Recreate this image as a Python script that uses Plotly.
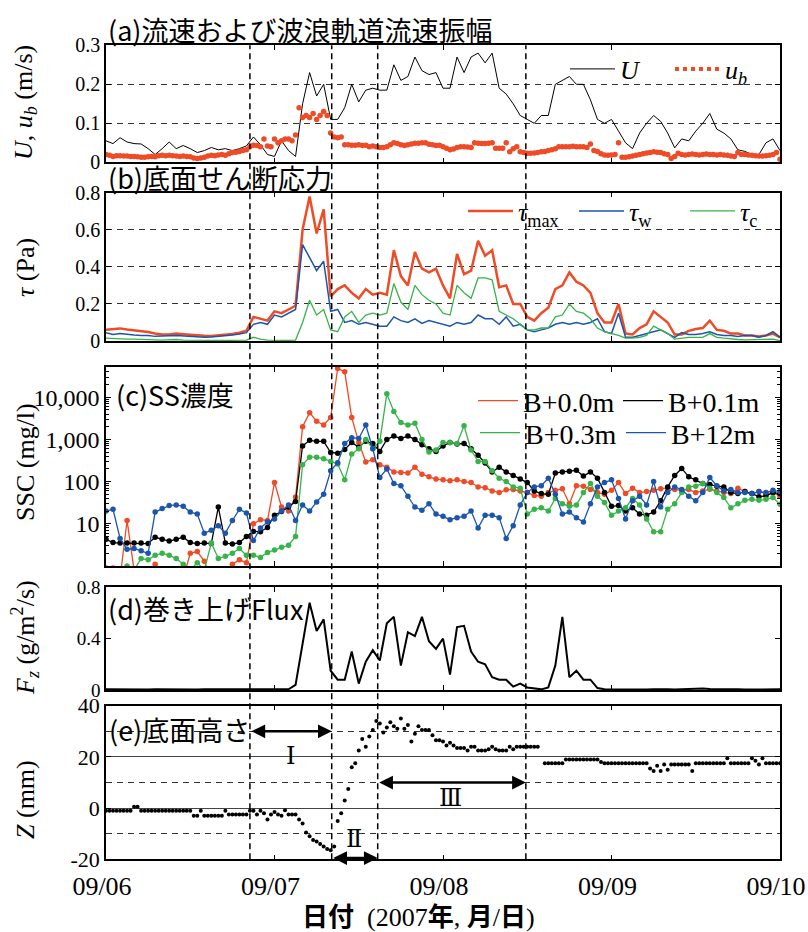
import plotly.graph_objects as go

W, H = 808, 932
PX_L, PX_R = 106, 780


def xp(px):
    return (px - PX_L) / (PX_R - PX_L)


def yp(py):
    return (H - py) / H


SERIF = "Liberation Serif"
JP = "Noto Sans CJK JP"
RED = "#EE4B26"
BLUE = "#1C55AD"
GREEN = "#36B449"
BLACK = "#000000"

# ---------------- time axes (hours from 2007-09-06 00:00) ----------------
hours = list(range(97))
half_hours = [i * 0.5 for i in range(193)]
day_ticks = [0, 24, 48, 72, 96]
day_labels = ["09/06", "09/07", "09/08", "09/09", "09/10"]
period_bounds = [20.5, 32.15, 38.7, 59.8]

# ---------------- (a) current speed U and wave orbital velocity u_b ----------------
U = [0.055, 0.048, 0.063, 0.052, 0.048, 0.047, 0.035, 0.02, 0.035, 0.052,
     0.035, 0.043, 0.035, 0.025, 0.03, 0.038, 0.032, 0.035, 0.03, 0.035,
     0.042, 0.065, 0.045, 0.02, 0.015, 0.055, 0.03, 0.015, 0.15, 0.23,
     0.17, 0.2, 0.11, 0.11, 0.14, 0.2, 0.155, 0.185, 0.19, 0.185,
     0.185, 0.25, 0.21, 0.22, 0.27, 0.235, 0.225, 0.23, 0.19, 0.19,
     0.27, 0.23, 0.27, 0.28, 0.255, 0.28, 0.19, 0.175, 0.15, 0.12,
     0.11, 0.1, 0.12, 0.12, 0.2, 0.21, 0.22, 0.2, 0.2, 0.16,
     0.11, 0.1, 0.11, 0.08, 0.05, 0.035, 0.075, 0.1, 0.12, 0.105,
     0.075, 0.037, 0.06, 0.055, 0.08, 0.1, 0.125, 0.085, 0.075, 0.06,
     0.032, 0.028, 0.02, 0.02, 0.05, 0.06, 0.03]

u_b = [0.02, 0.018, 0.015, 0.017, 0.017, 0.016, 0.016, 0.015, 0.015,
       0.014, 0.013, 0.013, 0.014, 0.015, 0.014, 0.017, 0.018, 0.017, 0.018, 0.017, 0.016,
       0.015, 0.016, 0.015, 0.014, 0.011, 0.010, 0.011, 0.013,
       0.016, 0.018, 0.017, 0.019, 0.02, 0.018, 0.022, 0.025,
       0.026, 0.028, 0.03, 0.032, 0.04, 0.044, 0.043, 0.04,
       0.06, 0.042, 0.04, 0.06, 0.05, 0.055, 0.06, 0.06,
       0.055, 0.07, 0.14, 0.115, 0.12, 0.115, 0.125, 0.11,
       0.12, 0.13, 0.12, 0.075, 0.065, 0.063, 0.065, 0.045,
       0.045, 0.044, 0.044, 0.045, 0.043, 0.044, 0.04, 0.042,
       0.04, 0.038, 0.038, 0.04, 0.045, 0.05, 0.048, 0.045,
       0.043, 0.045, 0.047, 0.049, 0.049, 0.05, 0.05, 0.046,
       0.045, 0.043, 0.044, 0.04, 0.036, 0.032, 0.034, 0.038,
       0.04, 0.04, 0.039, 0.038, 0.05, 0.049, 0.048, 0.048,
       0.049, 0.05, 0.036, 0.036, 0.036, 0.05, 0.027, 0.035,
       0.04, 0.027, 0.025, 0.023, 0.023, 0.024, 0.025, 0.027,
       0.028, 0.03, 0.032, 0.035, 0.04, 0.04, 0.04, 0.04,
       0.041, 0.04, 0.04, 0.04, 0.038, 0.047, 0.03, 0.028,
       0.022, 0.019, 0.018, 0.019, 0.02, 0.05, 0.013, 0.013,
       0.014, 0.016, 0.018, 0.02, 0.022, 0.024, 0.025, 0.027,
       0.026, 0.025, 0.022, 0.02, 0.01, 0.015, 0.023, 0.02,
       0.019, 0.02, 0.021, 0.02, 0.019, 0.02, 0.021, 0.02,
       0.02, 0.019, 0.02, 0.019, 0.018, 0.016, 0.015, 0.025,
       0.02, 0.02, 0.019, 0.018, 0.017, 0.016, 0.016, 0.017,
       0.018, 0.02, 0.025, 0.008]

# ---------------- (b) bed shear stress ----------------
tau_max = [0.06, 0.063, 0.068, 0.062, 0.058, 0.052, 0.048, 0.04, 0.035, 0.035,
           0.04, 0.037, 0.033, 0.03, 0.028, 0.027, 0.03, 0.033, 0.038, 0.045,
           0.055, 0.13, 0.12, 0.11, 0.16, 0.15, 0.17, 0.19, 0.6, 0.78,
           0.58, 0.71, 0.24, 0.28, 0.3, 0.26, 0.23, 0.28, 0.25, 0.26,
           0.25, 0.49, 0.35, 0.3, 0.48, 0.39, 0.37, 0.39, 0.3, 0.23,
           0.47, 0.36, 0.38, 0.54, 0.46, 0.49, 0.29, 0.3, 0.2, 0.2,
           0.13, 0.11, 0.15, 0.18, 0.28, 0.3, 0.37, 0.32, 0.3, 0.26,
           0.15, 0.1, 0.1, 0.2, 0.04, 0.035, 0.07, 0.09, 0.16, 0.13,
           0.1, 0.035, 0.035, 0.055, 0.065, 0.07, 0.11, 0.06, 0.055, 0.04,
           0.04, 0.03, 0.03, 0.025, 0.03, 0.04, 0.02]
tau_w = [0.045, 0.035, 0.04, 0.035, 0.032, 0.03, 0.03, 0.025, 0.025, 0.028,
         0.03, 0.028, 0.025, 0.02, 0.02, 0.022, 0.025, 0.028, 0.032, 0.038,
         0.045, 0.09, 0.1, 0.09, 0.14, 0.13, 0.15, 0.17, 0.52, 0.45,
         0.38, 0.43, 0.16, 0.17, 0.1, 0.11, 0.09, 0.1, 0.09, 0.08,
         0.08, 0.13, 0.11, 0.1, 0.12, 0.095, 0.11, 0.1, 0.09, 0.08,
         0.1, 0.09, 0.1, 0.14, 0.12, 0.12, 0.09, 0.13, 0.08, 0.09,
         0.06, 0.05, 0.06, 0.07, 0.09, 0.1, 0.09, 0.1, 0.09, 0.1,
         0.12, 0.05, 0.04, 0.15, 0.02, 0.02, 0.03, 0.04, 0.05, 0.06,
         0.04, 0.02, 0.045, 0.035, 0.035, 0.04, 0.05, 0.035, 0.03, 0.03,
         0.025, 0.03, 0.03, 0.02, 0.03, 0.05, 0.02]
tau_c = [0.015, 0.012, 0.013, 0.01, 0.01, 0.01, 0.008, 0.006, 0.005, 0.008,
         0.008, 0.005, 0.004, 0.003, 0.003, 0.003, 0.003, 0.003, 0.003, 0.003,
         0.005, 0.02, 0.01, 0.005, 0.003, 0.003, 0.003, 0.005, 0.1, 0.22,
         0.14, 0.17, 0.06, 0.05, 0.13, 0.16, 0.1, 0.14, 0.15, 0.14,
         0.15, 0.31, 0.21, 0.17, 0.3, 0.25, 0.22, 0.2, 0.15, 0.14,
         0.3, 0.26, 0.23, 0.34, 0.34, 0.33, 0.16, 0.14, 0.12, 0.09,
         0.06, 0.06, 0.07, 0.07, 0.13, 0.14, 0.2, 0.16, 0.15, 0.12,
         0.07, 0.05, 0.04, 0.03, 0.015, 0.015, 0.02, 0.03, 0.08, 0.06,
         0.04, 0.01, 0.015, 0.02, 0.02, 0.02, 0.04, 0.02, 0.015, 0.01,
         0.008, 0.006, 0.006, 0.006, 0.008, 0.01, 0.002]

# ---------------- (c) SS concentration (mg/l) ----------------
ssc_b00 = [0.9, 0.9, 0.5, 12, 0.8, 0.5, 0.5, 1.1, 0.5, 0.5,
           0.5, 0.5, 2.0, 2.2, 1.3, 0.5, 0.5, 0.5, 1.1, 1.4,
           1.2, 10, 12.5, 12, 95, 25, 20, 43, 2000, 4300,
           2700, 2200, 3300, 48000, 40000, 3300, 850, 290, 330, 250,
           220, 170, 165, 160, 220, 150, 130, 115, 110, 105,
           110, 100, 95, 75, 72, 60, 55, 64, 65, 60,
           55, 47, 45, 55, 62, 68, 30, 80, 78, 65,
           55, 50, 62, 95, 52, 70, 55, 58, 62, 68,
           72, 65, 62, 65, 55, 60, 66, 60, 55, 52,
           70, 58, 52, 58, 52, 55, 45]
ssc_b01 = [4.3, 3.6, 3.5, 3.5, 3.5, 3.5, 3.4, 4.8, 4.3, 3.9,
           4.3, 4.8, 3.6, 3.4, 3.5, 3.4, 25, 3.5, 3.3, 3.6,
           5, 6.6, 6.5, 8.2, 16, 19.5, 25, 34, 700, 950,
           900, 900, 490, 470, 580, 850, 650, 900, 800, 520,
           1000, 1200, 1050, 1200, 1000, 750, 600, 520, 700, 850,
           780, 800, 600, 420, 275, 170, 220, 170, 140, 115,
           95, 60, 52, 50, 160, 170, 175, 185, 135, 170,
           120, 55, 26, 27, 20, 24, 17, 16, 19, 35,
           75, 140, 205, 130, 110, 90, 85, 78, 75, 55,
           52, 58, 52, 44, 46, 55, 52]
ssc_b03 = [0.5, 0.5, 0.5, 1.0, 0.8, 1.5, 1.4, 1.8, 2.0, 1.8,
           1.5, 1.1, 0.8, 1.2, 0.8, 3.5, 1.5, 1.7, 2.0, 2.6,
           1.8, 1.8, 1.6, 2.1, 2.4, 2.8, 3.1, 5, 250, 380,
           380, 350, 300, 260, 110, 450, 600, 1000, 600, 900,
           12000, 4600, 2500, 2200, 2400, 1000, 500, 560, 850, 850,
           800, 2100, 560, 300, 300, 180, 120, 100, 75, 70,
           17, 22, 24, 20, 40, 30, 26, 28, 55, 90,
           45, 32, 16, 20, 24, 40, 28, 13, 6.5, 6.5,
           22, 30, 55, 75, 78, 90, 70, 55, 42, 24,
           30, 36, 38, 36, 38, 42, 29]
ssc_b12 = [20, 22, 4.5, 2.5, 2.6, 2.3, 2, 19, 23, 27,
           28, 26, 19, 17, 6, 7, 9, 6, 12, 22,
           18, 4, 8, 11, 13, 20, 28, 12, 28, 20,
           33, 50, 180, 280, 800, 1100, 1050, 2200, 600, 125,
           200, 90, 80, 45, 25, 21, 30, 17, 15, 12.5,
           14, 15, 20, 8, 16, 16, 14, 4.5, 9, 28,
           55, 75, 80, 120, 50, 17, 19, 14, 11, 30,
           75, 95, 110, 40, 13, 35, 45, 28, 100, 25,
           55, 75, 65, 45, 35, 55, 125, 80, 60, 65,
           55, 55, 52, 58, 55, 62, 58]

# ---------------- (d) erosion flux Fz (g/m2/s) ----------------
flux = [0.005, 0.004, 0.005, 0.004, 0.005, 0.005, 0.004, 0.006, 0.005, 0.004,
        0.005, 0.006, 0.005, 0.004, 0.005, 0.005, 0.004, 0.005, 0.006, 0.005,
        0.007, 0.006, 0.005, 0.005, 0.004, 0.005, 0.006, 0.04, 0.35, 0.68,
        0.46, 0.55, 0.15, 0.08, 0.08, 0.3, 0.05, 0.22, 0.31, 0.23,
        0.52, 0.57, 0.19, 0.45, 0.42, 0.57, 0.38, 0.32, 0.4, 0.12,
        0.49, 0.5, 0.3, 0.22, 0.2, 0.1, 0.08, 0.08, 0.026, 0.05,
        0.02, 0.01, 0.005, 0.02, 0.19, 0.57, 0.1, 0.15, 0.08, 0.08,
        0.015, 0.006, 0.005, 0.004, 0.005, 0.006, 0.005, 0.004, 0.006, 0.008,
        0.005, 0.004, 0.006, 0.01, 0.008, 0.012, 0.008, 0.006, 0.005, 0.004,
        0.005, 0.004, 0.005, 0.004, 0.005, 0.004, 0.005]

# ---------------- (e) bed level Z (mm), half-hourly ----------------
bed_z = [-1, -1, -1, -1, -1, -1, -1, -1,
         0.5, 0.5,
         -1, -1, -1, -1, -1, -1, -1, -1, -1, -1, -1, -1, -1, -1, -1,
         -3, -3, -1,
         -3, -3, -3, -3, -3, -3,
         -1,
         -2.5, -2.5, -2.5, -2.5, -2.5, -2.5,
         -1, -1, -2.5, -1, -2, -4.5, -2.5, -1.5, -2.5, -3,
         -0.8, -2.5, -2.5, -2.5, -4.5, -6, -9.5, -11, -12.5, -13,
         -14, -15, -16, -16.5, -15, -5, -2, 3, 7.5, 16,
         17.5, 22.5, 27, 24, 28, 30.5, 34, 33, 29.5, 31.5,
         33.5, 32, 31, 35, 31, 32.5, 26, 29, 32, 30.5,
         30.5, 30.5, 28.5, 26.5, 26.5, 26, 24.5, 25.5, 24.5, 23.5,
         23.5, 23.5, 22.5, 24, 24, 22.5, 22.5, 22.5, 23, 24,
         23, 22.5, 22.5, 22.5, 24, 23, 24, 24,
         24, 24, 24, 24, 24,
         None,
         17.5, 17.5, 17.5, 17.5, 17.5, 17.5,
         19, 19, 19, 19, 19, 19, 19, 19, 19, 19,
         18,
         17.5, 17.5, 17.5, 17.5, 17.5, 17.5, 17.5, 17.5, 17.5, 17.5, 17.5, 17.5, 17.5,
         15.5, 14.5, 16.5, 14.5, 17, 15,
         17, 17, 17, 17, 17, 17,
         14.5,
         17.5, 17.5, 17.5, 17.5, 17.5, 17.5, 17.5, 17.5, 17.5,
         19.5,
         17.5, 17.5, 17.5, 17.5, 17.5, 17.5,
         19.5, 18.5, 17, 19.5,
         17.5, 17.5, 17.5, 17.5, 17.5]

for name, arr, n in [("U", U, 97), ("u_b", u_b, 193), ("tau_max", tau_max, 97),
                     ("tau_w", tau_w, 97), ("tau_c", tau_c, 97), ("b00", ssc_b00, 97),
                     ("b01", ssc_b01, 97), ("b03", ssc_b03, 97), ("b12", ssc_b12, 97),
                     ("flux", flux, 97), ("z", bed_z, 193)]:
    assert len(arr) == n, (name, len(arr))

fig = go.Figure()

# (a)
fig.add_trace(go.Scatter(x=hours, y=U, mode="lines", line=dict(color=BLACK, width=1),
                         name="<i>U</i>", xaxis="x", yaxis="y", legend="legend"))
fig.add_trace(go.Scatter(x=half_hours, y=u_b, mode="markers",
                         marker=dict(color=RED, size=5.5), showlegend=False, xaxis="x", yaxis="y"))
fig.add_trace(go.Scatter(x=[None], y=[None], mode="lines", line=dict(color=RED, width=4, dash="dot"),
                         name="<i>u<sub>b</sub></i>", xaxis="x", yaxis="y", legend="legend"))

# (b)
fig.add_trace(go.Scatter(x=hours, y=tau_max, mode="lines", line=dict(color=RED, width=2.5),
                         name="<i>τ</i><sub>max</sub>", xaxis="x2", yaxis="y2", legend="legend2"))
fig.add_trace(go.Scatter(x=hours, y=tau_w, mode="lines", line=dict(color=BLUE, width=1.5),
                         name="<i>τ</i><sub>w</sub>", xaxis="x2", yaxis="y2", legend="legend2"))
fig.add_trace(go.Scatter(x=hours, y=tau_c, mode="lines", line=dict(color=GREEN, width=1.3),
                         name="<i>τ</i><sub>c</sub>", xaxis="x2", yaxis="y2", legend="legend2"))

# (c)
ssc_series = [("B+0.0m", ssc_b00, RED, "legend3"), ("B+0.1m", ssc_b01, BLACK, "legend3"),
              ("B+0.3m", ssc_b03, GREEN, "legend4"), ("B+12m", ssc_b12, BLUE, "legend4")]
for nm, vals, col, lg in ssc_series:
    fig.add_trace(go.Scatter(x=hours, y=vals, mode="lines", line=dict(color=col, width=1.3),
                             name=nm, xaxis="x3", yaxis="y3", legend=lg))
    fig.add_trace(go.Scatter(x=hours, y=vals, mode="markers", marker=dict(color=col, size=5.5),
                             showlegend=False, xaxis="x3", yaxis="y3"))

# (d)
fig.add_trace(go.Scatter(x=hours, y=flux, mode="lines", line=dict(color=BLACK, width=2),
                         showlegend=False, xaxis="x4", yaxis="y4"))

# (e)
fig.add_trace(go.Scatter(x=half_hours, y=bed_z, mode="markers", marker=dict(color=BLACK, size=4),
                         showlegend=False, xaxis="x5", yaxis="y5"))


# ---------------- axes ----------------
def xaxis_cfg(anchor, labels):
    return dict(range=[0, 96], domain=[0, 1], anchor=anchor, tickmode="array",
                tickvals=day_ticks, ticktext=day_labels, showticklabels=labels,
                ticks="inside", ticklen=5, tickwidth=1.2, tickcolor="black",
                showline=True, linewidth=1.5, linecolor="black", mirror="ticks",
                showgrid=False, zeroline=False, ticklabeloverflow="allow",
                ticklabelstandoff=3, ticklabelshift=-4, automargin=False,
                tickfont=dict(family=SERIF, size=26, color="black"))


def yaxis_cfg(top_px, bottom_px, size=20, **kw):
    d = dict(domain=[yp(bottom_px), yp(top_px)], automargin=False,
             ticks="inside", ticklen=5, tickwidth=1.2, tickcolor="black",
             showline=True, linewidth=1.5, linecolor="black", mirror="ticks",
             zeroline=False, showgrid=False,
             tickfont=dict(family=SERIF, size=size, color="black"))
    d.update(kw)
    return d


grid_dash = dict(showgrid=True, gridcolor="#333333", gridwidth=1.1, griddash="6px,5px")

minor_log_vals = [m * 10 ** k for k in range(0, 5) for m in range(2, 10)]

layout_axes = dict(
    xaxis=xaxis_cfg("y", False),
    xaxis2=xaxis_cfg("y2", False),
    xaxis3=xaxis_cfg("y3", False),
    xaxis4=xaxis_cfg("y4", False),
    xaxis5=xaxis_cfg("y5", True),
    yaxis=yaxis_cfg(45.3, 162.3, anchor="x", range=[0, 0.3], tickmode="array",
                    tickvals=[0, 0.1, 0.2, 0.3], ticktext=["0", "0.1", "0.2", "0.3"], **grid_dash),
    yaxis2=yaxis_cfg(192.7, 341, anchor="x2", range=[0, 0.8], tickmode="array",
                     tickvals=[0, 0.2, 0.4, 0.6, 0.8], ticktext=["0", "0.2", "0.4", "0.6", "0.8"],
                     **grid_dash),
    yaxis3=yaxis_cfg(367, 566, size=24, anchor="x3", type="log", range=[0, 4.716], tickmode="array",
                     tickvals=[10, 100, 1000, 10000], ticktext=["10", "100", "1,000", "10,000"],
                     minor=dict(tickmode="array", tickvals=minor_log_vals, ticks="inside", ticklen=3,
                                tickcolor="black", showgrid=False)),
    yaxis4=yaxis_cfg(587.3, 690, size=19, anchor="x4", range=[0, 0.8], tickmode="array",
                     tickvals=[0, 0.4, 0.8], ticktext=["0", "0.4", "0.8"]),
    yaxis5=yaxis_cfg(705.7, 859.3, size=22, anchor="x5", range=[-20, 40], tickmode="array",
                     tickvals=[-20, 0, 20, 40], ticktext=["-20", "0", "20", "40"],
                     showgrid=True, gridcolor="#444444", gridwidth=1.1,
                     minor=dict(tickmode="array", tickvals=[-10, 10, 30], ticks="", showgrid=True,
                                gridcolor="#333333", gridwidth=1.1, griddash="6px,5px")),
)

# ---------------- legends ----------------
leg_common = dict(orientation="h", bgcolor="rgba(0,0,0,0)", borderwidth=0,
                  xanchor="left", yanchor="middle", itemwidth=45, tracegroupgap=0,
                  entrywidthmode="pixels",
                  font=dict(family=SERIF, size=26, color="black"))
legends = dict(
    legend=dict(leg_common, x=xp(565), y=yp(69), entrywidth=45),
    legend2=dict(leg_common, x=xp(463), y=yp(211), entrywidth=51),
    legend3=dict(leg_common, x=xp(473), y=yp(401), entrywidth=90, itemwidth=40,
                 font=dict(family=SERIF, size=28, color="black")),
    legend4=dict(leg_common, x=xp(475), y=yp(433), entrywidth=91, itemwidth=40,
                 font=dict(family=SERIF, size=28, color="black")),
)

# ---------------- annotations ----------------
ann = []
titles = [("(a)流速および波浪軌道流速振幅", 106, 29), ("(b)底面せん断応力", 106, 178),
          ("(c)SS濃度", 114, 395), ("(d)巻き上げFlux", 106, 608), ("(e)底面高さ", 107, 729)]
for t, x, y in titles:
    ann.append(dict(text=t, x=xp(x), y=yp(y), xref="paper", yref="paper", xanchor="left",
                    yanchor="middle", showarrow=False, font=dict(family=JP, size=27, color="black")))

ytitles = [("<i>U</i>, <i>u<sub>b</sub></i> (m/s)", 103), ("<i>τ</i> (Pa)", 268),
           ("SSC (mg/l)", 462), ("<i>F<sub>z</sub></i> (g/m<sup>2</sup>/s)", 638), ("<i>Z</i> (mm)", 800)]
for t, y in ytitles:
    ann.append(dict(text=t, x=xp(25), y=yp(y), xref="paper", yref="paper", xanchor="center",
                    yanchor="middle", textangle=-90, showarrow=False,
                    font=dict(family=SERIF, size=26, color="black")))

ann.append(dict(text="<b>日付</b>  (2007<b>年</b>, <b>月</b>/<b>日</b>)", x=xp(418), y=yp(917),
                xref="paper", yref="paper", xanchor="center", yanchor="middle", showarrow=False,
                font=dict(family=SERIF + ", " + JP, size=26, color="black")))

# period arrows (I, II, III) in panel (e)
arrows = [(period_bounds[0], period_bounds[1], 30), (period_bounds[1], period_bounds[2], -19.5),
          (period_bounds[2], period_bounds[3], 10)]
for a0, a1, zz in arrows:
    ann.append(dict(text="", x=a1, y=zz, ax=a0, ay=zz, xref="x5", yref="y5", axref="x5", ayref="y5",
                    showarrow=True, arrowhead=2, startarrowhead=2, arrowside="end+start",
                    arrowsize=1.1, startarrowsize=1.1, arrowwidth=2.5, arrowcolor="black", standoff=0,
                    startstandoff=0))
romans = [("Ⅰ", 26.3, 20.5), ("Ⅱ", 35.3, -12), ("Ⅲ", 49.0, 4)]
for t, xx, zz in romans:
    ann.append(dict(text=t, x=xx, y=zz, xref="x5", yref="y5", showarrow=False, xanchor="center",
                    yanchor="middle", font=dict(family="DejaVu Serif, " + JP, size=24, color="black")))

# ---------------- vertical dashed period lines ----------------
shapes = []
for b in period_bounds:
    shapes.append(dict(type="line", xref="x", yref="paper", x0=b, x1=b, y0=yp(859.3), y1=yp(45.3),
                       line=dict(color="black", width=1.5, dash="6px,4px"), layer="above"))

fig.update_layout(
    width=W, height=H,
    margin=dict(l=PX_L, r=W - PX_R, t=0, b=0, pad=0, autoexpand=False),
    paper_bgcolor="white", plot_bgcolor="white",
    font=dict(family=SERIF, color="black"),
    annotations=ann, shapes=shapes, showlegend=True,
    **layout_axes, **legends,
)

fig.write_html("out.html")
